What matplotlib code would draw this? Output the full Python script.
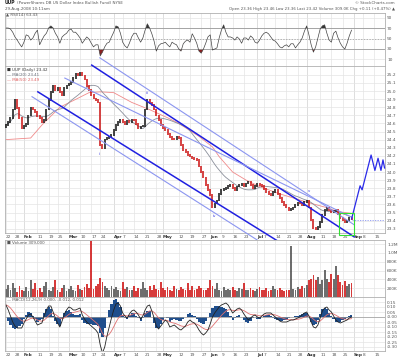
import matplotlib
matplotlib.use('Agg')
import matplotlib.pyplot as plt
import numpy as np
import pandas as pd

W, H = 400, 361

# trading days shown (Jan 22 - Aug 29 2008) plus empty room to Sep 19
HOLIDAYS = ['2008-02-18', '2008-03-21', '2008-05-26', '2008-07-04', '2008-09-01']
days = pd.bdate_range('2008-01-22', '2008-09-19')
days = days[~days.isin(pd.to_datetime(HOLIDAYS))]

close = [24.58, 24.62, 24.67, 24.77, 24.89, 24.79, 24.67, 24.54, 24.57, 24.59,
         24.70, 24.79, 24.77, 24.74, 24.69, 24.67, 24.62, 24.64, 24.77, 24.89,
         24.99, 25.07, 25.01, 25.04, 24.99, 24.95, 25.04, 25.07, 25.09, 25.11,
         25.16, 25.21, 25.20, 25.22, 25.19, 25.14, 25.06, 25.01, 24.95, 24.91,
         24.89, 24.86, 24.33, 24.30, 24.40, 24.42, 24.44, 24.46, 24.52, 24.58,
         24.62, 24.64, 24.62, 24.59, 24.63, 24.62, 24.65, 24.64, 24.59, 24.54,
         24.56, 24.57, 24.77, 24.89, 24.85, 24.83, 24.77, 24.70, 24.64, 24.58,
         24.54, 24.52, 24.47, 24.43, 24.41, 24.40, 24.44, 24.42, 24.33, 24.27,
         24.25, 24.21, 24.19, 24.17, 24.16, 24.15, 24.07, 24.00, 23.93, 23.84,
         23.78, 23.72, 23.56, 23.61, 23.65, 23.73, 23.78, 23.79, 23.80, 23.83,
         23.84, 23.80, 23.78, 23.82, 23.84, 23.85, 23.83, 23.86, 23.88, 23.84,
         23.80, 23.83, 23.85, 23.84, 23.83, 23.79, 23.75, 23.73, 23.72, 23.75,
         23.78, 23.73, 23.68, 23.63, 23.59, 23.56, 23.53, 23.54, 23.56, 23.59,
         23.62, 23.61, 23.59, 23.63, 23.65, 23.56, 23.41, 23.31, 23.30, 23.32,
         23.38, 23.47, 23.53, 23.56, 23.53, 23.51, 23.52, 23.53, 23.48, 23.43,
         23.41, 23.38, 23.40, 23.43, 23.42]
first_open = 24.55

ma50_day = [0, 11, 16, 24, 32, 37, 42, 48, 56, 64, 72, 77, 86, 92, 95, 101,
            107, 113, 122, 128, 135, 143, 148, 154]
ma50_val = [24.40, 24.42, 24.58, 24.80, 24.91, 24.98, 24.99, 24.98, 24.86, 24.77,
            24.67, 24.60, 24.44, 24.31, 24.19, 24.00, 23.90, 23.82, 23.73, 23.68,
            23.62, 23.56, 23.51, 23.49]

volume_k = [180, 270, 150, 310, 200, 120, 250, 160, 140, 220,
            130, 390, 180, 310, 150, 200, 120, 260, 350, 170,
            140, 230, 390, 160, 120, 200, 270, 140, 180, 250,
            150, 130, 270, 190, 160, 220, 300, 210, 1280, 180,
            240, 300, 430, 350, 260, 200, 150, 250, 180, 220,
            160, 140, 350, 190, 230, 150, 170, 260, 140, 200,
            180, 350, 210, 160, 240, 150, 280, 190, 160, 350,
            200, 150, 230, 170, 140, 260, 190, 150, 220, 180,
            160, 320, 170, 240, 150, 190, 260, 200, 170, 150,
            210, 390, 250, 180, 310, 160, 140, 220, 170, 190,
            150, 230, 160, 140, 200, 180, 310, 170, 150, 210,
            160, 140, 180, 230, 150, 170, 200, 140, 160, 250,
            180, 150, 200, 170, 140, 160, 160, 1150, 190, 170,
            220, 180, 250, 200, 280, 390, 420, 500, 380, 450,
            300, 380, 620, 420, 350, 530, 400, 700, 500, 330,
            280, 360, 250, 300, 309]

rsi = [70, 70, 68, 62, 53, 47, 40, 34, 43, 57,
       55, 47, 51, 60, 66, 38, 47, 55, 60, 70,
       74, 70, 60, 53, 41, 53, 57, 60, 66, 68,
       62, 62, 57, 51, 41, 47, 53, 49, 41, 34,
       38, 38, 17, 24, 34, 41, 43, 53, 62, 74,
       72, 60, 43, 36, 32, 41, 53, 60, 60, 51,
       43, 51, 66, 78, 70, 59, 45, 26, 36, 40,
       41, 43, 38, 34, 43, 40, 38, 30, 26, 40,
       45, 47, 43, 59, 51, 41, 26, 22, 30, 41,
       53, 57, 28, 30, 32, 51, 66, 76, 62, 53,
       53, 51, 47, 53, 49, 41, 51, 51, 47, 55,
       51, 43, 41, 47, 55, 60, 62, 59, 53, 47,
       45, 40, 34, 32, 36, 38, 34, 40, 40, 32,
       38, 43, 51, 64, 74, 57, 38, 24, 34, 51,
       68, 74, 76, 60, 47, 43, 60, 64, 51, 41,
       34, 30, 41, 55, 66]

macd = [0.12, 0.07, 0.01, -0.05, -0.09, -0.11, -0.11, -0.11, -0.06, -0.02,
        0.02, 0.03, 0.00, -0.04, -0.08, -0.07, -0.06, 0.01, 0.07, 0.11,
        0.11, 0.05, -0.01, -0.06, -0.10, -0.04, 0.03, 0.07, 0.10, 0.09,
        0.07, 0.07, 0.08, 0.09, 0.02, -0.02, -0.05, -0.07, -0.09, -0.11,
        -0.13, -0.16, -0.28, -0.36, -0.30, -0.19, -0.10, -0.01, 0.07, 0.13,
        0.14, 0.11, 0.04, 0.01, -0.01, 0.03, 0.06, 0.07, 0.05, 0.02,
        -0.02, 0.01, 0.07, 0.11, 0.12, 0.06, -0.01, -0.09, -0.12, -0.09,
        -0.06, -0.03, -0.05, -0.10, -0.09, -0.08, -0.10, -0.12, -0.13, -0.11,
        -0.09, -0.05, -0.03, -0.05, -0.06, -0.09, -0.13, -0.16, -0.18, -0.16,
        -0.13, -0.07, 0.00, 0.04, 0.07, 0.10, 0.12, 0.13, 0.14, 0.12,
        0.08, 0.04, 0.06, 0.08, 0.09, 0.07, 0.03, 0.00, -0.03, -0.01,
        0.01, 0.02, 0.00, -0.01, 0.01, 0.03, 0.04, 0.04, 0.04, 0.02,
        0.00, -0.02, -0.04, -0.05, -0.05, -0.05, -0.04, -0.03, -0.03, -0.02,
        -0.01, 0.00, 0.02, 0.04, 0.05, 0.01, -0.05, -0.10, -0.11, -0.08,
        -0.01, 0.06, 0.09, 0.10, 0.07, 0.05, 0.01, -0.03, -0.05, -0.06,
        -0.05, -0.04, -0.03, -0.01, 0.00]

# hand drawn channel lines (day index, price) and projected path
channels = [
    ((41.8, 25.41), (155.1, 23.35), '#8c96f0', 0.8),
    ((38.2, 25.32), (155.1, 23.20), '#2020e0', 1.1),
    ((26.2, 25.16), (154.2, 23.44), '#8c96f0', 0.8),
    ((14.2, 24.99), (132.0, 22.96), '#2020e0', 1.1),
    ((11.6, 24.93), (130.7, 22.83), '#8c96f0', 0.8),
]
proj_day = [154, 157.8, 158.7, 162.7, 164.4, 165.8, 167.1, 168.0, 168.7]
proj_val = [23.42, 23.83, 23.78, 24.21, 24.02, 24.17, 24.02, 24.15, 24.05]

# wave counts written on the chart
wave_day = [42, 63, 93, 135]
wave_val = [24.22, 24.98, 23.46, 23.76]
wave_txt = ['ii', 'iii', 'iv', 'v']

close = np.array(close)
opens = np.r_[first_open, close[:-1]]
n = len(close)
x = np.arange(n)
ma20 = pd.Series(close).rolling(20, min_periods=1).mean().values
signal = pd.Series(macd).ewm(span=9, adjust=False).mean().values
hist = np.array(macd) - signal
up = close >= opens

XL = (-0.44, 168.9)
GRID = '#e4e4e4'
TXT = '#555555'


def axes_px(x0, y0, x1, y1):
    return fig.add_axes([x0 / W, 1 - y1 / H, (x1 - x0) / W, (y1 - y0) / H])


def ftxt(xp, yp, s, **kw):
    kw.setdefault('fontsize', 3.1)
    kw.setdefault('color', TXT)
    fig.text(xp / W, 1 - yp / H, s, va='center', **kw)


# weekly / monthly ticks
tick_pos, tick_lab, month_pos = [], [], []
last_month_i = -10
for i, d in enumerate(days):
    prev = days[i - 1] if i > 0 else None
    nxt = days[i + 1] if i + 1 < len(days) else None
    if i > 0 and d.month != prev.month:
        tick_pos.append(i)
        tick_lab.append(d.strftime('%b'))
        month_pos.append(i)
        last_month_i = i
        continue
    if prev is None or d.weekday() < prev.weekday():
        if i - last_month_i > 2 and not (nxt is not None and nxt.month != d.month):
            tick_pos.append(i)
            tick_lab.append(str(d.day))

fig = plt.figure(figsize=(W / 100, H / 100), dpi=100)
fig.patch.set_facecolor('white')


def style(ax, ylim, yt, ylab, labels_bottom=False):
    ax.set_xlim(*XL)
    ax.set_ylim(*ylim)
    ax.set_yticks(yt)
    ax.set_yticklabels(ylab)
    ax.yaxis.tick_right()
    ax.tick_params(axis='y', length=0, labelsize=3.1, labelcolor=TXT, pad=1.5)
    ax.set_xticks(tick_pos)
    ax.tick_params(axis='x', length=0, labelsize=3.1, labelcolor=TXT, pad=1.2)
    if labels_bottom:
        ax.set_xticklabels(tick_lab)
        for lab, t in zip(ax.get_xticklabels(), tick_lab):
            lab.set_ha('left')
            if t.isalpha():
                lab.set_fontweight('bold')
                lab.set_color('#333333')
    else:
        ax.set_xticklabels([])
    for p in tick_pos:
        ax.axvline(p, color='#d0d0d0' if p in month_pos else GRID, lw=0.5, zorder=0)
    for v in yt:
        ax.axhline(v, color=GRID, lw=0.5, zorder=0)
    for s in ax.spines.values():
        s.set_color('#b0b0b0')
        s.set_linewidth(0.6)


# RSI panel
ax_r = axes_px(5, 13, 385, 66)
style(ax_r, (-2.4, 98.6), [10, 30, 50, 70, 90], ['10', '30', '50', '70', '90'])
ax_r.axhline(70, color='#999999', lw=0.6)
ax_r.axhline(30, color='#999999', lw=0.6)
ax_r.axhline(50, color='#999999', lw=0.5, ls=(0, (2, 2)))
rs = np.array(rsi, dtype=float)
ax_r.fill_between(x, rs, 70, where=rs > 70, interpolate=True, color='#333333', lw=0)
ax_r.fill_between(x, rs, 30, where=rs < 30, interpolate=True, color='#8b2020', lw=0)
ax_r.plot(x, rs, color='#444444', lw=0.5)

# price panel
ax_p = axes_px(5, 66, 385, 233)
pt = np.round(np.arange(23.3, 25.21, 0.1), 1)
style(ax_p, (23.247, 25.309), pt, [f'{v:.1f}' for v in pt], labels_bottom=True)
ax_p.plot(ma50_day, ma50_val, color='#f08a8a', lw=0.6, zorder=2)
ax_p.plot(x, ma20, color='#8a8f9a', lw=0.6, zorder=2)
cols = np.where(up, '#111111', '#cc1111')
ax_p.vlines(x, np.minimum(opens, close) - 0.01, np.maximum(opens, close) + 0.01,
            colors=cols, lw=1.1, zorder=3)
for (a, b, c, lw) in channels:
    ax_p.plot([a[0], b[0]], [a[1], b[1]], color=c, lw=lw, clip_on=False, zorder=4)
ax_p.plot(proj_day, proj_val, color='#2a2ae8', lw=0.9, clip_on=False, zorder=4)
ax_p.plot([n - 1, XL[1]], [close[-1] - 0.01] * 2, color='#8c96f0', lw=0.6,
          ls=(0, (1.5, 1.5)), zorder=2)
ax_p.add_patch(plt.Rectangle((148.5, 23.22), 6.5, 0.27, fill=False, ec='#33dd33',
                             lw=0.8, clip_on=False, zorder=5))
for d, v, t in zip(wave_day, wave_val, wave_txt):
    ax_p.text(d, v, t, color='#3a3ae0', fontsize=2.8, ha='center', va='center', zorder=5)

# volume panel
ax_v = axes_px(5, 240, 385, 297)
vt = [200, 400, 600, 800, 1000, 1200]
style(ax_v, (0, 1295), vt, ['200K', '400K', '600K', '800K', '1.0M', '1.2M'])
ax_v.bar(x, volume_k, width=0.8, color=np.where(up, '#555555', '#d01818'), alpha=0.85)

# MACD panel
ax_m = axes_px(5, 297, 351 + 34, 351)
mt = np.round(np.arange(-0.30, 0.16, 0.05), 2)
style(ax_m, (-0.34, 0.20), mt, [f'{v:.2f}' for v in mt], labels_bottom=True)
ax_m.axhline(0, color='#999999', lw=0.5)
ax_m.fill_between(x, hist, 0, color='#1f4e8c', lw=0, step='mid')
ax_m.plot(x, signal, color='#e07070', lw=0.6)
ax_m.plot(x, macd, color='#222222', lw=0.6)

# header and legends
ftxt(5, 3, 'UUP', fontweight='bold', color='#222222', fontsize=3.3)
ftxt(17, 3, '(PowerShares DB US Dollar Index Bullish Fund) NYSE', fontsize=2.9)
ftxt(5, 9, '29-Aug-2008 10:11am', fontsize=2.9)
ftxt(6, 15, '\u25b2 RSI(14) 63.43', fontsize=2.9)
ftxt(395, 3, '\u00a9 StockCharts.com', ha='right', fontsize=2.9)
ftxt(395, 9, 'Open 23.36 High 23.46 Low 23.36 Last 23.42 Volume 309.0K Chg +0.11 (+0.47%) \u25b2',
     ha='right', fontsize=2.8)
ftxt(7, 70, '\u25a0 UUP (Daily) 23.42', color='#333333', fontsize=2.9)
ftxt(7, 75, '\u2014 MA(20) 23.41', color='#6a6f7a', fontsize=2.9)
ftxt(7, 80, '\u2014 MA(50) 23.49', color='#e06060', fontsize=2.9)
ftxt(7, 243, '\u25a0 Volume 309,000', fontsize=2.9)
ftxt(7, 300, '\u2014 MACD(12,26,9) 0.000, -0.012, 0.012', fontsize=2.9)

fig.savefig('out.png', dpi=100)
